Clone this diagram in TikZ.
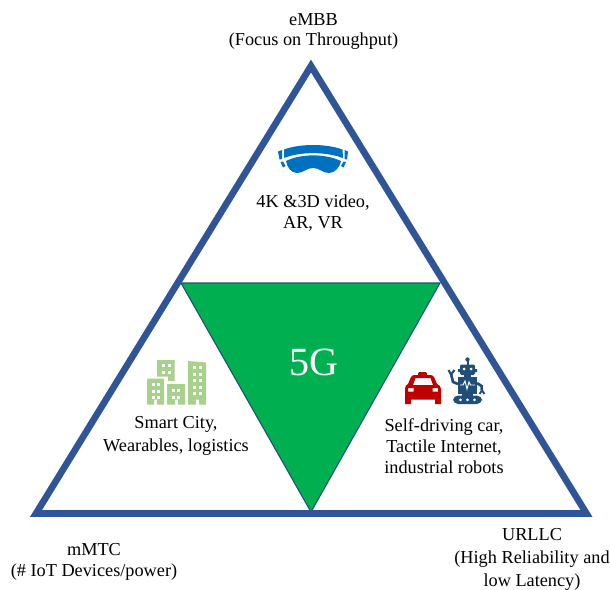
\documentclass[tikz,border=0pt]{standalone}
\usepackage{fontspec}
\setmainfont{Liberation Serif}
\definecolor{triblue}{HTML}{2F5597}
\definecolor{fiveg}{HTML}{00B050}
\definecolor{hmd}{HTML}{0070C0}
\definecolor{city}{HTML}{A9D18E}
\definecolor{taxi}{HTML}{C00000}
\definecolor{robot}{HTML}{1F4E79}
\tikzset{
  lbl/.style={align=center,font=\fontsize{13.7pt}{15.6pt}\selectfont,text=black,inner sep=0pt},
  biglbl/.style={font=\fontsize{30pt}{32pt}\selectfont,text=white,inner sep=0pt},
}
\newcommand{\winrows}[4]{%
  \foreach \cc in {1,...,#3}{\foreach \rr in {1,...,#4}{
    \fill[white] ({#1+(\cc-1)*5.6},{#2+(\rr-1)*6.5}) rectangle +(3.2,3.4);}}}
\begin{document}
\begin{tikzpicture}[x=0.75pt,y=-0.75pt]
\useasboundingbox (0,0) rectangle (610,589);
\clip (0,0) rectangle (610,589);
% green centre
\coordinate (gl) at (181,283);
\coordinate (gr) at (440,283);
\coordinate (gb) at (311,512);
\draw[fill=fiveg,draw=robot,line width=0.8pt,line join=miter] (gl) -- (gr) -- (gb) -- cycle;
% outer triangle
\coordinate (ta) at (311,66);
\coordinate (tl) at (36,513.5);
\coordinate (tr) at (586.5,513.5);
\draw[triblue,line width=5pt,line join=miter,miter limit=10] (ta) -- (tr) -- (tl) -- cycle;
% labels
\node[lbl] (embb) at (313.5,31.5) {eMBB\\(Focus on Throughput)};
\node[lbl] (hmdtext) at (313,213) {4K \&3D video,\\AR, VR};
\node[biglbl] (fg) at (313.5,362) {5G};
\node[lbl,font=\fontsize{13.7pt}{17pt}\selectfont] (citytext) at (176,436) {Smart City,\\Wearables, logistics};
\node[lbl] (cartext) at (444,446) {Self-driving car,\\Tactile Internet,\\industrial robots};
\node[lbl] (mmtc) at (94,562) {mMTC\\(\# IoT Devices/power)};
\node[lbl,font=\fontsize{13.7pt}{17.5pt}\selectfont] (urllc) at (532,559.5) {URLLC\\(High Reliability and\\low Latency)};
% headset icon
\fill[hmd] (284,149.5) .. controls (300,143.5) and (326,143.5) .. (342.5,149.5) -- (343,158) .. controls (325,151.5) and (301,151.5) .. (284,158) -- cycle;
\fill[hmd] (286,161) .. controls (301,153.5) and (325,153.5) .. (341,161) .. controls (340,167) and (335,173) .. (329,173) .. controls (322,173) and (320,168) .. (313,168) .. controls (306,168) and (304,173) .. (297,173) .. controls (291,173) and (287,167) .. (286,161) -- cycle;
\fill[hmd] (278,151.5) -- (282,150) -- (282,159) -- (279.5,159.5) -- cycle;
\fill[hmd] (344.5,150) -- (348,151.5) -- (347,159.5) -- (344.5,159) -- cycle;
\fill[hmd] (280.5,162) -- (283,161.5) -- (285.5,166) -- (283,167.5) -- cycle;
\fill[hmd] (343.5,161.5) -- (346,162) -- (343.5,167.5) -- (341,166) -- cycle;
% city icon
\fill[city] (147,378.5) -- (164,378.5) -- (164,404.5) -- (157,404.5) -- (157,399.5) -- (154,399.5) -- (154,404.5) -- (147,404.5) -- cycle;
\winrows{151.5}{383}{2}{3}
\fill[city] (157,360) -- (174.5,360) -- (174.5,381) -- (168,381) -- (168,376.5) -- (157,376.5) -- cycle;
\winrows{162}{364}{2}{2}
\fill[city] (167,384) -- (185,384) -- (185,404.5) -- (178,404.5) -- (178,399.5) -- (175,399.5) -- (175,404.5) -- (167,404.5) -- cycle;
\winrows{171.5}{389}{2}{2}
\fill[city] (188,361) -- (206,362.5) -- (206,404.5) -- (199,404.5) -- (199,399.5) -- (196,399.5) -- (196,404.5) -- (188,404.5) -- cycle;
\winrows{193}{366}{2}{5}
% car icon
\fill[taxi,rounded corners=1pt] (418,372) rectangle (427,376);
\fill[taxi,even odd rule] (405,404) -- (405,389) .. controls (405,386) and (406,385) .. (408,384) -- (411,377) .. controls (412,375.5) and (413,375) .. (415,375) -- (430,375) .. controls (432,375) and (433,375.5) .. (434,377) -- (437,384) .. controls (439,385) and (441,386) .. (441,389) -- (441,404) -- (435,404) -- (435,399.5) -- (411,399.5) -- (411,404) -- cycle
 (413,385) -- (433,385) -- (430.5,378) -- (415.5,378) -- cycle
 (408,388) rectangle (413.5,391.5)
 (432.5,388) rectangle (438,391.5);
% robot icon
\fill[robot] (467.5,359.5) circle (2.2);
\fill[robot] (466.5,360) rectangle (468.5,365);
\fill[robot,even odd rule,rounded corners=1pt] (460,364.5) rectangle (475,375);
\fill[white] (464,369) circle (1.5) (471,369) circle (1.5);
\fill[robot] (458,369) rectangle (460,372) (475,369) rectangle (477,372);
\fill[robot] (464,375) rectangle (471,377.5);
\fill[robot] (458,377) rectangle (477,393.5);
\draw[white,line width=0.7pt] (460,385) -- (463,385) -- (465,381) -- (467,389) -- (469,382) -- (470.5,385) -- (475,385);
\fill[robot] (462,393) rectangle (473,396);
\fill[robot,rounded corners=3.8pt] (453,395.5) rectangle (482,404);
\fill[white] (460.5,399.8) circle (1.5) (467.5,399.8) circle (1.5) (474.5,399.8) circle (1.5);
\draw[robot,line width=2pt] (458,384) -- (453,382) -- (451,374);
\draw[robot,line width=1.6pt] (448.5,370) -- (451,374.5) -- (454.5,370);
\draw[robot,line width=2pt] (477,383) -- (481.5,386) -- (482,392);
\draw[robot,line width=1.4pt] (479.5,394) -- (482,390.5) -- (484.5,394);
\end{tikzpicture}
\end{document}
